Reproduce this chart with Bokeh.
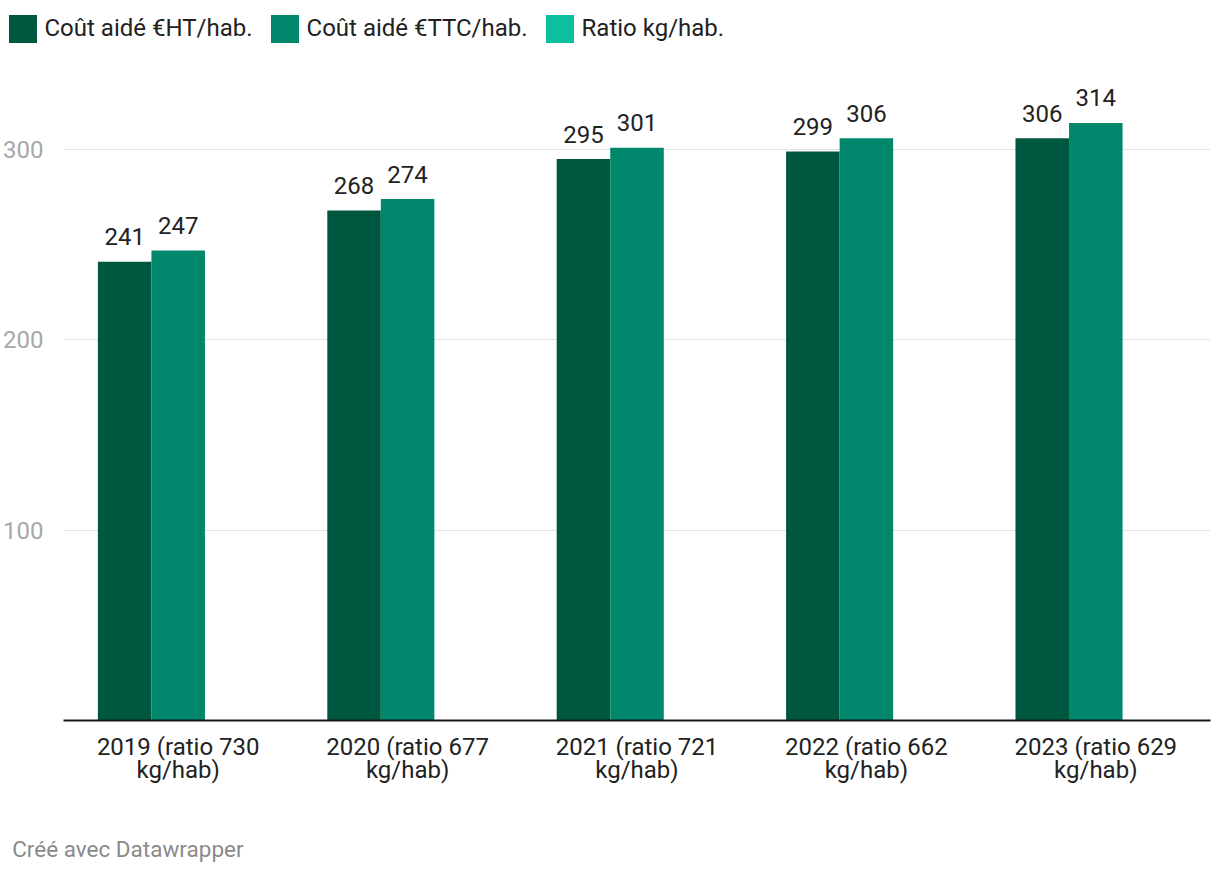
from bokeh.plotting import figure
from bokeh.layouts import column, row
from bokeh.models import ColumnDataSource, FactorRange, Range1d, FixedTicker, Legend, LegendItem, Label
from bokeh.transform import dodge
from bokeh.core.properties import value
from bokeh.embed import file_html
from bokeh.resources import INLINE

categories = ["2019 (ratio 730\nkg/hab)", "2020 (ratio 677\nkg/hab)", "2021 (ratio 721\nkg/hab)",
              "2022 (ratio 662\nkg/hab)", "2023 (ratio 629\nkg/hab)"]
cout_ht = [241, 268, 295, 299, 306]
cout_ttc = [247, 274, 301, 306, 314]
ratio_bars = [None, None, None, None, None]  # this series has no bars in the chart
series_names = ["Coût aidé €HT/hab.", "Coût aidé €TTC/hab.", "Ratio kg/hab."]
y_ticks = [100, 200, 300]
footer_text = "Créé avec Datawrapper"

C_HT = "#00573F"
C_TTC = "#00876C"
C_RATIO = "#0BBF9F"
FONT = "Roboto"
FS = "24px"

src = ColumnDataSource(dict(cat=categories, ht=cout_ht, ttc=cout_ttc, ratio=ratio_bars,
                            ht_s=[str(v) for v in cout_ht], ttc_s=[str(v) for v in cout_ttc]))

x_range = FactorRange(factors=categories, range_padding=0)
BW = 0.2334


def strip(height):
    s = figure(width=1216, height=height, x_range=FactorRange(factors=categories, range_padding=0),
               y_range=Range1d(0, 1), output_backend="svg", toolbar_location=None,
               min_border_left=0, min_border_right=0, min_border_top=0, min_border_bottom=0)
    s.outline_line_color = None
    s.axis.visible = False
    s.grid.grid_line_color = None
    s.border_fill_color = "white"
    return s


# ---- legend strip (top) ----
pl = strip(60)
lr = [pl.vbar(x=dodge("cat", off, range=pl.x_range), top="ratio", bottom=0, width=BW, source=src,
              fill_color=c, line_color=None)
      for off, c in zip([-BW, 0, BW], [C_HT, C_TTC, C_RATIO])]
legend = Legend(items=[LegendItem(label=n, renderers=[r]) for n, r in zip(series_names, lr)],
                orientation="horizontal", location=(4.5, 14.5), glyph_width=35, glyph_height=35,
                label_standoff=5, spacing=14, padding=0, margin=0, border_line_color=None,
                background_fill_alpha=0, label_text_font=FONT, label_text_font_size=FS,
                label_text_color="#222222", label_height=35)
pl.add_layout(legend, "center")

# ---- main chart ----
p = figure(width=1216, height=770, x_range=x_range,
           y_range=Range1d(0, 346.8), output_backend="svg", toolbar_location=None,
           min_border_left=62, min_border_right=6, min_border_top=0, min_border_bottom=110)
p.outline_line_color = None
p.background_fill_color = "white"
p.border_fill_color = "white"

p.vbar(x=dodge("cat", -BW, range=x_range), top="ht", bottom=0, width=BW, source=src,
       fill_color=C_HT, line_color=None)
p.vbar(x=dodge("cat", 0, range=x_range), top="ttc", bottom=0, width=BW, source=src,
       fill_color=C_TTC, line_color=None)
p.vbar(x=dodge("cat", BW, range=x_range), top="ratio", bottom=0, width=BW, source=src,
       fill_color=C_RATIO, line_color=None)

p.text(x=dodge("cat", -BW, range=x_range), y="ht", text="ht_s", source=src, text_align="center",
       text_baseline="alphabetic", y_offset=-25, text_font=value(FONT), text_font_size=FS,
       text_color="#222222")
p.text(x=dodge("cat", 0, range=x_range), y="ttc", text="ttc_s", source=src, text_align="center",
       text_baseline="alphabetic", y_offset=-25, text_font=value(FONT), text_font_size=FS,
       text_color="#222222")

p.xgrid.grid_line_color = None
p.ygrid.grid_line_color = "#e3e3e3"
p.ygrid.grid_line_width = 1
p.yaxis.ticker = FixedTicker(ticks=y_ticks)
p.yaxis.axis_line_color = None
p.yaxis.major_tick_line_color = None
p.yaxis.minor_tick_line_color = None
p.yaxis.major_label_standoff = 14
p.yaxis.major_label_text_font = FONT
p.yaxis.major_label_text_font_size = FS
p.yaxis.major_label_text_color = "#a8a8a8"

p.xaxis.axis_line_color = "#1a1a1a"
p.xaxis.axis_line_width = 2
p.xaxis.major_tick_line_color = None
p.xaxis.minor_tick_line_color = None
p.xaxis.major_label_standoff = 6
p.xaxis.major_label_text_font = FONT
p.xaxis.major_label_text_font_size = FS
p.xaxis.major_label_text_line_height = 0.85
p.xaxis.major_label_text_color = "#222222"

# ---- footer strip ----
pf = strip(38)
pf.add_layout(Label(x=11.7, y=20, x_units="screen", y_units="screen", text=footer_text,
                    text_font=FONT, text_font_size="22.5px", text_color="#8a8a8a",
                    text_baseline="alphabetic"))

layout = column(row(pl), p, row(pf), spacing=0)
open("out.html", "w").write(file_html(layout, INLINE))
